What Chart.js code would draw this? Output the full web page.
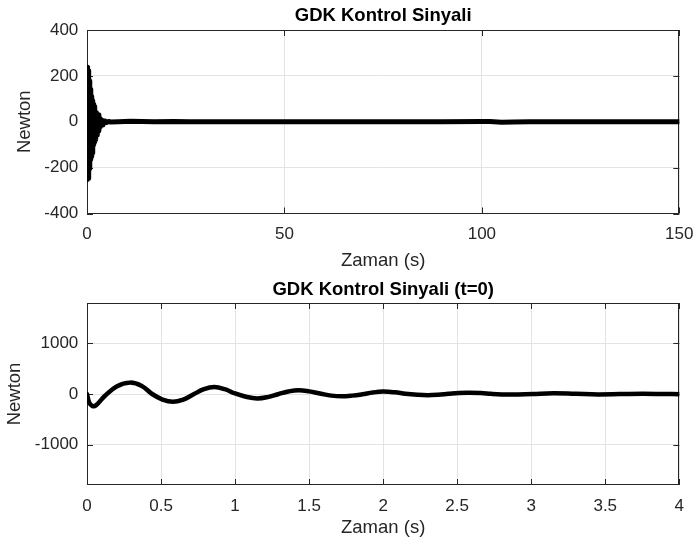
<!DOCTYPE html>
<html>
<head>
<meta charset="utf-8">
<script src="https://cdn.jsdelivr.net/npm/chart.js@4.4.1/dist/chart.umd.min.js"></script>
<style>
    body { margin: 0; background: #fff; }
    .panel { position: absolute; left: 0; width: 694px; height: 276px; }
</style>
</head>
<body>
<div class="panel" style="top:0"><canvas id="fullChart"></canvas></div>
<div class="panel" style="top:276px"><canvas id="startChart"></canvas></div>

<script>
// Top panel: control signal over the whole run (s, N)
const fullTime = [0, 0.05, 0.1, 0.15, 0.2, 0.25, 0.3, 0.35, 0.4, 0.45, 0.5, 0.6, 0.7, 0.8, 0.9, 1.0,
    1.1, 1.2, 1.3, 1.4, 1.5, 1.6, 1.7, 1.8, 1.9, 2.0, 2.2, 2.4, 2.6, 2.8, 3.0, 3.2, 3.4, 3.6, 3.8,
    4.0, 4.3, 4.6, 5.0, 5.5, 6, 8, 11, 14, 17, 22, 26, 30, 40, 50, 60, 75, 90, 100, 102, 105, 108,
    112, 120, 135, 150];
const fullForce = [0, 238, -252, 236, -250, 230, -246, 222, -240, 205, -228, 178, -205, 142, -165, 125,
    -150, 110, -135, 92, -115, 76, -100, 66, -88, 58, -78, 40, -58, 30, -40, 18, -22, 10, -14,
    5, -7, 3, -3, 1, -1, 0, 2, 1, 0, 1, 0, 0, 0, 0, 0, 0, 0, 1, 1, -2, -1,
    0, 0, 0, 0];
const fullXTicks = [0, 50, 100, 150];
const fullYTicks = [-400, -200, 0, 200, 400];

// Bottom panel: first 4 seconds
const startTime = [0, 0.015, 0.035, 0.06, 0.12, 0.2, 0.29, 0.37, 0.44, 0.51, 0.58, 0.65, 0.72, 0.79,
    0.86, 0.93, 1.0, 1.08, 1.15, 1.22, 1.29, 1.36, 1.43, 1.5, 1.58, 1.65, 1.72, 1.79, 1.86, 1.93,
    2.0, 2.08, 2.15, 2.23, 2.3, 2.37, 2.44, 2.51, 2.58, 2.66, 2.73, 2.8, 2.87, 3.01, 3.15, 3.3,
    3.45, 3.6, 3.75, 3.9, 4.0];
const startForce = [0, -170, -235, -225, -40, 150, 225, 160, 0, -110, -155, -110, -5, 95,
    136, 95, 10, -60, -88, -62, -5, 50, 75, 52, 5, -32, -45, -32, -5, 30,
    47, 33, 5, -15, -23, -15, 3, 20, 26, 18, 3, -8, -12, 0, 13, 3,
    -8, -2, 5, 0, -3];
const startXTicks = [0, 0.5, 1, 1.5, 2, 2.5, 3, 3.5, 4];
const startYTicks = [-1000, 0, 1000];

const TEXT = '#262626';
const FONT = "'Liberation Sans', Arial, sans-serif";

// matlab style box with inward tick marks
const axesBox = {
    id: 'axesBox',
    beforeDatasetsDraw(chart, args, opts) {
        const { ctx, chartArea: a, scales } = chart;
        const len = opts.tickLen || 6;
        ctx.save();
        ctx.strokeStyle = TEXT;
        ctx.lineWidth = 1;
        ctx.strokeRect(Math.round(a.left) + 0.5, Math.round(a.top) + 0.5,
            Math.round(a.right - a.left) - 1, Math.round(a.bottom - a.top) - 1);
        ctx.beginPath();
        scales.x.ticks.forEach(t => {
            const px = Math.round(scales.x.getPixelForValue(t.value)) + 0.5;
            ctx.moveTo(px, a.bottom); ctx.lineTo(px, a.bottom - len);
            ctx.moveTo(px, a.top); ctx.lineTo(px, a.top + len);
        });
        scales.y.ticks.forEach(t => {
            const py = Math.round(scales.y.getPixelForValue(t.value)) + 0.5;
            ctx.moveTo(a.left, py); ctx.lineTo(a.left + len, py);
            ctx.moveTo(a.right, py); ctx.lineTo(a.right - len, py);
        });
        ctx.stroke();
        ctx.restore();
    }
};

function buildChart(id, cfg) {
    const points = cfg.time.map((t, i) => ({ x: t, y: cfg.force[i] }));
    return new Chart(document.getElementById(id), {
        type: 'line',
        data: {
            datasets: [{
                data: points,
                borderColor: '#000',
                borderWidth: cfg.lineWidth,
                borderJoinStyle: 'round',
                borderCapStyle: 'round',
                pointRadius: 0,
                tension: cfg.tension,
                fill: false
            }]
        },
        options: {
            responsive: true,
            maintainAspectRatio: false,
            animation: false,
            devicePixelRatio: 1,
            layout: { padding: { left: 0, right: 14.7, top: 0, bottom: 0 } },
            plugins: {
                legend: { display: false },
                tooltip: { enabled: false },
                title: {
                    display: true,
                    text: cfg.title,
                    color: '#000',
                    fullSize: false,
                    font: { family: FONT, size: 18.5, weight: 'bold' },
                    padding: cfg.titlePad
                },
                axesBox: { tickLen: 6 }
            },
            scales: {
                x: {
                    type: 'linear',
                    min: cfg.xTicks[0],
                    max: cfg.xTicks[cfg.xTicks.length - 1],
                    afterBuildTicks: s => { s.ticks = cfg.xTicks.map(v => ({ value: v })); },
                    afterFit: s => {
                        s.height = cfg.xHeight;
                        s.paddingLeft = 0;
                        s.paddingRight = 0;
                    },
                    grid: { color: '#e3e3e3', drawTicks: false },
                    border: { display: false },
                    ticks: {
                        color: TEXT, padding: cfg.xTickPad, maxRotation: 0,
                        font: { family: FONT, size: 17 },
                        callback: v => String(v)
                    },
                    title: {
                        display: true, text: 'Zaman (s)', color: TEXT,
                        font: { family: FONT, size: 18.5 },
                        padding: { top: 0, bottom: cfg.xTitlePad }
                    }
                },
                y: {
                    min: cfg.yMin,
                    max: cfg.yMax,
                    afterBuildTicks: s => { s.ticks = cfg.yTicks.map(v => ({ value: v })); },
                    afterFit: s => { s.width = 87; },
                    grid: { color: '#e3e3e3', drawTicks: false },
                    border: { display: false },
                    ticks: {
                        color: TEXT, padding: 8.7,
                        font: { family: FONT, size: 17 },
                        callback: v => String(v)
                    },
                    title: {
                        display: true, text: 'Newton', color: TEXT,
                        font: { family: FONT, size: 18.5 },
                        padding: { top: cfg.yTitlePad, bottom: 0 }
                    }
                }
            }
        },
        plugins: [axesBox]
    });
}

buildChart('fullChart', {
    time: fullTime, force: fullForce, xTicks: fullXTicks, yTicks: fullYTicks,
    yMin: -400, yMax: 400, lineWidth: 5, tension: 0,
    title: 'GDK Kontrol Sinyali',
    titlePad: { top: 4.9, bottom: 2.9 },
    xHeight: 62.5, xTickPad: 10.3, xTitlePad: 3.9, yTitlePad: 13.4
});

buildChart('startChart', {
    time: startTime, force: startForce, xTicks: startXTicks, yTicks: startYTicks,
    yMin: -1800, yMax: 1800, lineWidth: 4.5, tension: 0.4,
    title: 'GDK Kontrol Sinyali (t=0)',
    titlePad: { top: 2.9, bottom: 1.9 },
    xHeight: 67, xTickPad: 10.8, xTitlePad: 12.9, yTitlePad: 3.9
});
</script>
</body>
</html>
